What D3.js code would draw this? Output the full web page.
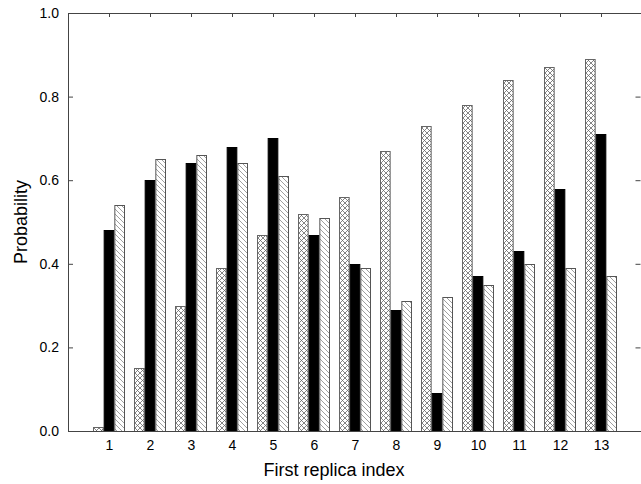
<!DOCTYPE html>
<html>
<head>
<meta charset="utf-8">
<script src="https://cdn.jsdelivr.net/npm/d3@7"></script>
<style>
  body { margin: 0; background: #fff; }
  svg { display: block; font-family: "Liberation Sans", Arial, sans-serif; }
</style>
</head>
<body>
<svg width="641" height="484"></svg>
<script>
const replicas = [1, 2, 3, 4, 5, 6, 7, 8, 9, 10, 11, 12, 13];
const seriesA = [0.01, 0.15, 0.30, 0.39, 0.47, 0.52, 0.56, 0.67, 0.73, 0.78, 0.84, 0.87, 0.89];
const seriesB = [0.48, 0.60, 0.64, 0.68, 0.70, 0.47, 0.40, 0.29, 0.09, 0.37, 0.43, 0.58, 0.71];
const seriesC = [0.54, 0.65, 0.66, 0.64, 0.61, 0.51, 0.39, 0.31, 0.32, 0.35, 0.40, 0.39, 0.37];
const yTicks = [0, 0.2, 0.4, 0.6, 0.8, 1.0];
const seriesKeys = ['a', 'b', 'c'];

const svg = d3.select('svg');
const width = +svg.attr('width');
const height = +svg.attr('height');
const margin = { top: 13, right: 0, bottom: 53, left: 68 };
const innerWidth = width - margin.left - margin.right;
const innerHeight = height - margin.top - margin.bottom;

const defs = svg.append('defs');

// cross hatch
const cross = defs.append('pattern')
  .attr('id', 'cross')
  .attr('patternUnits', 'userSpaceOnUse')
  .attr('width', 5).attr('height', 5);
cross.append('rect').attr('width', 5).attr('height', 5).attr('fill', '#fff');
cross.append('path').attr('d', 'M0,0 L5,5 M5,0 L0,5')
  .attr('stroke', '#666').attr('stroke-width', 0.8);

// single diagonal hatch
const diag = defs.append('pattern')
  .attr('id', 'diag')
  .attr('patternUnits', 'userSpaceOnUse')
  .attr('width', 5).attr('height', 5);
diag.append('rect').attr('width', 5).attr('height', 5).attr('fill', '#fff');
diag.append('path').attr('d', 'M0,0 L5,5 M-1,4 L1,6 M4,-1 L6,1')
  .attr('stroke', '#888').attr('stroke-width', 0.8);

const fills = { a: 'url(#cross)', b: '#000', c: 'url(#diag)' };
const strokes = { a: '#666', b: '#000', c: '#555' };

const g = svg.append('g').attr('transform', `translate(${margin.left},${margin.top})`);

const x0 = d3.scaleBand()
  .domain(replicas)
  .range([21, 554])
  .padding(0);

const x1 = d3.scaleBand()
  .domain(seriesKeys)
  .range([4, 36])
  .padding(0);

const y = d3.scaleLinear()
  .domain([0, 1])
  .range([innerHeight, 0]);

const data = replicas.map((r, i) => ({ r: r, a: seriesA[i], b: seriesB[i], c: seriesC[i] }));

// bottom axis (inward ticks, hidden behind bars)
const xAxis = d3.axisBottom(x0).tickSizeInner(-4).tickSizeOuter(0).tickPadding(9);
const xag = g.append('g')
  .attr('transform', `translate(0,${innerHeight})`)
  .call(xAxis);

// top axis, ticks only
const topAxis = d3.axisTop(x0).tickSizeInner(-4).tickSizeOuter(0);
const tag = g.append('g').call(topAxis);
tag.selectAll('text').remove();

// left axis
const yAxis = d3.axisLeft(y).tickValues(yTicks).tickFormat(d3.format('.1f'))
  .tickSizeInner(-5).tickSizeOuter(0).tickPadding(9);
const yag = g.append('g').call(yAxis);

// right axis, ticks only
const rAxis = d3.axisRight(y).tickValues(yTicks)
  .tickSizeInner(-5).tickSizeOuter(0);
const rag = g.append('g').attr('transform', `translate(${innerWidth - 0.5},0)`).call(rAxis);
rag.selectAll('text').remove();

[xag, tag, yag, rag].forEach(a => {
  a.select('.domain').remove();
  a.selectAll('.tick line').attr('stroke', '#444');
  a.selectAll('text').attr('fill', '#000').style('font-size', '14px')
    .style('font-family', '"Liberation Sans", Arial, sans-serif');
});

const groups = g.append('g').selectAll('g')
  .data(data)
  .enter()
  .append('g')
  .attr('transform', d => `translate(${x0(d.r)},0)`);

groups.selectAll('rect')
  .data(d => seriesKeys.map(k => ({ key: k, value: d[k] })))
  .enter()
  .append('rect')
  .attr('x', d => x1(d.key) + 0.5)
  .attr('y', d => Math.round(y(d.value)) + 0.5)
  .attr('width', x1.bandwidth() - 1)
  .attr('height', d => innerHeight - Math.round(y(d.value)))
  .attr('fill', d => fills[d.key])
  .attr('stroke', d => strokes[d.key])
  .attr('stroke-width', 1);

// frame: left, top, bottom
g.append('path')
  .attr('d', `M${innerWidth},0.5 H0.5 V${innerHeight + 0.5} H${innerWidth}`)
  .attr('fill', 'none')
  .attr('stroke', '#444');

svg.append('text')
  .attr('x', margin.left + 266)
  .attr('y', height - 8)
  .attr('text-anchor', 'middle')
  .style('font-size', '18px')
  .text('First replica index');

svg.append('text')
  .attr('transform', 'rotate(-90)')
  .attr('x', -222)
  .attr('y', 27)
  .attr('text-anchor', 'middle')
  .style('font-size', '18px')
  .text('Probability');
</script>
</body>
</html>
